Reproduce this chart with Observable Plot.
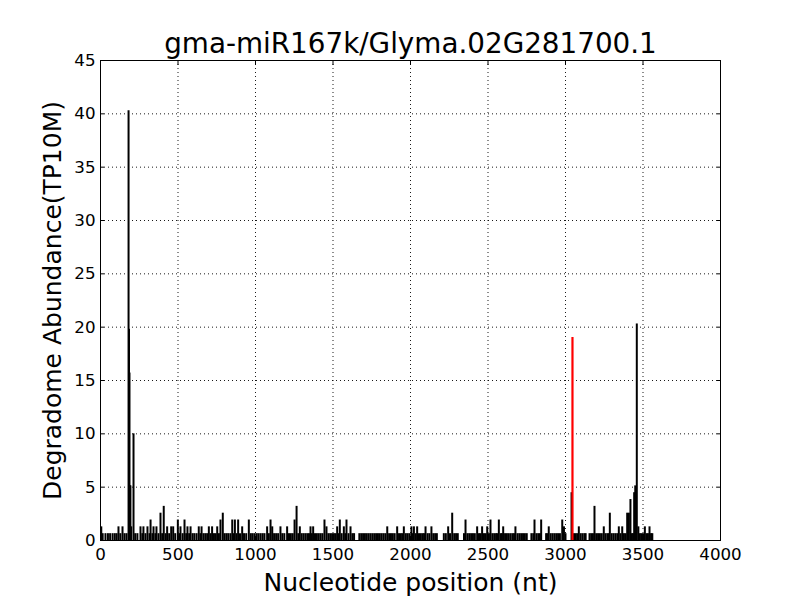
<!DOCTYPE html>
<html>
<head>
<meta charset="utf-8">
<script src="https://cdn.jsdelivr.net/npm/d3@7"></script>
<script src="https://cdn.jsdelivr.net/npm/@observablehq/plot@0.6"></script>
<style>
  html, body { margin: 0; padding: 0; background: #fff; }
  #chart { width: 800px; height: 600px; }
</style>
</head>
<body>
<div id="chart"></div>
<script>
// ---- data ----
const title = "gma-miR167k/Glyma.02G281700.1";
const xLabel = "Nucleotide position (nt)";
const yLabel = "Degradome Abundance(TP10M)";
const xTicks = [0, 500, 1000, 1500, 2000, 2500, 3000, 3500, 4000];
const yTicks = [0, 5, 10, 15, 20, 25, 30, 35, 40, 45];

// positions with a single read (abundance 0.64 TP10M)
const oneReadTP10M = 0.64;
const singleReadPositions = [14,32,48,62,78,92,104,128,155,168,224,238,270,290,316,335,354,374,398,420,443,482,508,530,553,572,594,606,620,645,664,676,688,710,732,743,764,800,812,824,838,860,878,900,926,940,970,982,995,1008,1020,1033,1046,1058,1086,1120,1133,1146,1173,1186,1216,1228,1240,1276,1298,1310,1322,1334,1345,1364,1384,1396,1408,1420,1432,1470,1482,1494,1506,1517,1536,1556,1580,1600,1625,1636,1670,1682,1694,1706,1718,1730,1742,1754,1766,1778,1790,1802,1814,1826,1838,1862,1874,1886,1898,1926,1938,1948,1970,1982,1994,2014,2034,2055,2067,2079,2088,2110,2122,2147,2159,2170,2215,2228,2255,2282,2294,2305,2345,2367,2379,2391,2403,2415,2442,2452,2474,2485,2506,2528,2540,2552,2560,2582,2590,2610,2622,2634,2646,2658,2668,2690,2702,2714,2726,2738,2750,2780,2792,2812,2824,2835,2875,2884,2904,2916,2928,2940,2952,2964,3000,3055,3067,3078,3098,3110,3122,3130,3155,3166,3177,3198,3210,3222,3234,3258,3270,3280,3298,3310,3322,3334,3355,3377,3388,3428,3436,3480,3490,3500,3522,3532,3552,3560];

// positions with more reads
const peakPositions = [5,116,142,181,184,187,190,193,198,213,258,277,303,323,342,361,387,408,430,456,469,499,516,542,561,581,634,652,699,720,753,774,789,850,867,888,914,957,1075,1097,1108,1161,1204,1252,1265,1286,1355,1372,1445,1458,1527,1544,1570,1587,1613,1850,1914,1957,2006,2022,2043,2097,2135,2243,2269,2355,2430,2462,2495,2516,2570,2598,2677,2800,2843,2892,2979,2990,3039,3086,3187,3247,3286,3344,3366,3398,3409,3419,3443,3450,3460,3470,3512,3542];
const peakValues    = [1.28,1.28,1.28,40.3,19.8,15.7,5.12,5.12,1.28,10.0,1.28,1.28,1.28,1.92,1.28,1.28,2.56,3.2,1.28,1.28,1.28,1.92,1.28,1.92,1.28,1.28,1.28,1.28,1.28,1.28,1.28,1.92,2.56,1.92,1.92,1.92,1.28,1.92,1.28,1.92,1.28,1.28,1.28,1.92,3.2,1.28,1.28,1.28,1.92,1.28,1.28,1.92,1.28,1.92,1.28,1.28,1.28,1.28,1.28,1.28,1.28,1.28,1.28,1.28,2.56,1.92,1.28,1.28,1.28,1.92,1.92,1.28,1.28,1.92,1.92,1.28,1.92,1.28,4.48,1.28,3.2,1.28,2.56,1.28,1.28,2.56,2.56,3.84,4.48,5.12,20.3,1.28,1.28,1.28];

// miRNA cleavage site (highlighted in red)
const cleavagePositions = [3045];
const cleavageValues = [19.03];

// ---- tables built from the arrays ----
const reads = [
  ...singleReadPositions.map(p => ({pos: p, tp: oneReadTP10M})),
  ...peakPositions.map((p, i) => ({pos: p, tp: peakValues[i]}))
];
const cleavage = cleavagePositions.map((p, i) => ({pos: p, tp: cleavageValues[i]}));

const font = "DejaVu Sans, Liberation Sans, sans-serif";
const plain = d => String(d);

const chart = Plot.plot({
  width: 800,
  height: 600,
  marginLeft: 100,
  marginRight: 80,
  marginTop: 60,
  marginBottom: 60,
  style: {fontFamily: font, fontSize: "16.7px", color: "black", background: "white"},
  x: {domain: [0, 4000], ticks: xTicks},
  y: {domain: [0, 45], ticks: yTicks},
  marks: [
    Plot.gridX(xTicks, {stroke: "black", strokeOpacity: 0.9, strokeWidth: 1, strokeDasharray: "1,3"}),
    Plot.gridY(yTicks, {stroke: "black", strokeOpacity: 0.9, strokeWidth: 1, strokeDasharray: "1,3"}),
    Plot.ruleX(reads, {x: "pos", y: "tp", stroke: "black", strokeWidth: 2}),
    Plot.ruleX(cleavage, {x: "pos", y: "tp", stroke: "#ff0000", strokeWidth: 2.2}),
    Plot.frame({stroke: "black", strokeWidth: 1}),
    Plot.axisX(xTicks, {anchor: "bottom", tickSize: -4, tickPadding: 12, fontSize: 16.7, tickFormat: plain, label: null}),
    Plot.axisX(xTicks, {anchor: "top", tickSize: -4, tickFormat: () => "", label: null}),
    Plot.axisY(yTicks, {anchor: "left", tickSize: -4, tickPadding: 9, fontSize: 16.7, tickFormat: plain, label: null}),
    Plot.axisY(yTicks, {anchor: "right", tickSize: -4, tickFormat: () => "", label: null}),
    Plot.text([title], {frameAnchor: "top", dy: -16, fontSize: 27.8, lineAnchor: "middle", fill: "black"}),
    Plot.text([xLabel], {frameAnchor: "bottom", dy: 42, fontSize: 25, lineAnchor: "middle", fill: "black"}),
    Plot.text([yLabel], {frameAnchor: "left", dx: -48, rotate: -90, textAnchor: "middle", fontSize: 25, lineAnchor: "middle", fill: "black"})
  ]
});
document.getElementById("chart").appendChild(chart);
</script>
</body>
</html>
